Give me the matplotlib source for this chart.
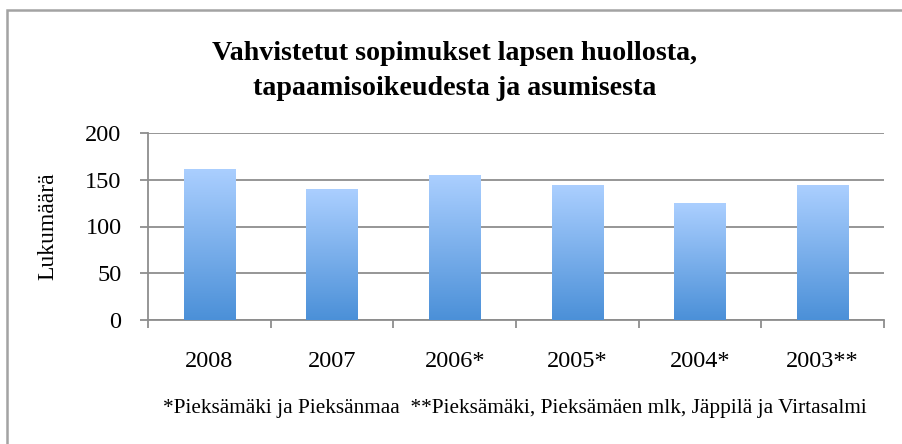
import numpy as np
import matplotlib
matplotlib.use("Agg")
import matplotlib.pyplot as plt
from matplotlib.patches import Rectangle
from matplotlib.colors import LinearSegmentedColormap
import matplotlib.patheffects as pe

years = ["2008", "2007", "2006*", "2005*", "2004*", "2003**"]
counts = [162, 140, 155, 144, 125, 144]
title = "Vahvistetut sopimukset lapsen huollosta,\ntapaamisoikeudesta ja asumisesta"
ylabel = "Lukumäärä"
footnote = "*Pieksämäki ja Pieksänmaa  **Pieksämäki, Pieksämäen mlk, Jäppilä ja Virtasalmi"

plt.rcParams['font.family'] = ['Liberation Serif', 'DejaVu Serif']

W, H = 902, 444
fig = plt.figure(figsize=(W / 100, H / 100), dpi=100)

# outer chart frame (runs off the right/bottom edge like the reference)
frame = Rectangle((6.5 / W, -0.2), 1.2, 1 - 10.5 / H + 0.2, transform=fig.transFigure,
                  fill=False, edgecolor="#a3a3a3", linewidth=1.8)
fig.patches.append(frame)

ax = fig.add_axes([148 / W, 1 - 320 / H, (884 - 148) / W, (320 - 133) / H])
grid_c = "#8e8e8e"

x = np.arange(len(years))
# soft shadow behind the bars
bars = ax.bar(x, counts, width=0.42, color="white", edgecolor="none", zorder=3,
              path_effects=[pe.SimplePatchShadow(offset=(0, -1), shadow_rgbFace="#9a9a9a",
                                                 alpha=0.35), pe.Normal()])

cmap = LinearSegmentedColormap.from_list("bluegrad", ["#4b90d8", "#abcfff"])
grad = np.linspace(0, 1, 256).reshape(-1, 1)
for b in bars:
    x0, y0 = b.get_x(), b.get_y()
    w, h = b.get_width(), b.get_height()
    im = ax.imshow(grad, cmap=cmap, origin="lower", aspect="auto",
                   extent=(x0, x0 + w, y0, y0 + h), zorder=3.5)
    im.set_clip_path(b)

ax.set_xlim(-0.5, len(years) - 0.5)
ax.set_ylim(0, 200)
ax.set_yticks([0, 50, 100, 150, 200])
ax.yaxis.grid(True, color=grid_c, linewidth=1.3)
ax.set_axisbelow(True)

ax.set_xticks(x)
ax.set_xticklabels(years, fontsize=17.5)
ax.set_xticks(np.arange(-0.5, len(years)), minor=True)
ax.tick_params(axis="x", which="major", length=0, pad=22)
ax.tick_params(axis="x", which="minor", length=6, width=1.3, color=grid_c, direction="out")
ax.tick_params(axis="y", length=6, width=1.3, color=grid_c, labelsize=17.5, pad=13)

for s in ["top", "right"]:
    ax.spines[s].set_visible(False)
for s in ["left", "bottom"]:
    ax.spines[s].set_color(grid_c)
    ax.spines[s].set_linewidth(1.3)

fig.text(48 / W, 1 - 226 / H, ylabel, rotation=90, ha="center", va="center", fontsize=17)
fig.text(455 / W, 1 - 71 / H, title, ha="center", va="center", fontsize=20.2,
         fontweight="bold", linespacing=1.55)
fig.text(515 / W, 1 - 408 / H, footnote, ha="center", va="center", fontsize=15.3)

fig.savefig("out.png", dpi=100)
